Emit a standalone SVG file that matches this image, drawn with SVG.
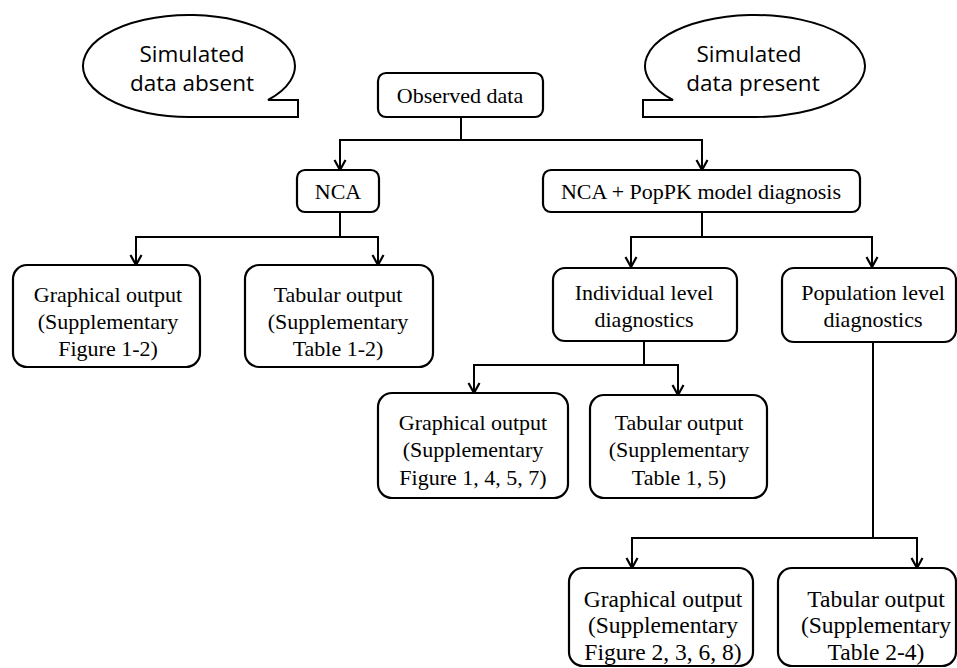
<svg xmlns="http://www.w3.org/2000/svg" width="957" height="668" viewBox="0 0 957 668">
<defs>
<style>
.box{fill:#fff;stroke:#000;stroke-width:2.2}
.bub{fill:#fff;stroke:#000;stroke-width:2}
.t{font-family:"Liberation Serif","Times New Roman",serif;font-size:22px;fill:#000;text-anchor:middle}
.b{font-size:23.5px}
.s{font-family:"Open Sans","Noto Sans",sans-serif;font-size:22.5px;fill:#000;text-anchor:middle}
.c{fill:none;stroke:#000;stroke-width:2;marker-end:url(#ah)}
</style>
<marker id="ah" markerUnits="userSpaceOnUse" markerWidth="14" markerHeight="14" viewBox="0 0 14 14" refX="12" refY="7" orient="auto">
<path d="M2,1.5 L12,7 L2,12.5" fill="none" stroke="#000" stroke-width="2.2"/>
</marker>
</defs>
<rect width="957" height="668" fill="#fff"/>
<g id="bubble-absent">
<path class="bub" d="M268,100 L298,100 L298,117 L192,117 A106,51 0 1 1 268,100 Z"/>
<text class="s" x="192" y="62">Simulated</text>
<text class="s" x="192" y="91">data absent</text>
</g>
<g id="bubble-present">
<path class="bub" d="M673,100 L643,100 L643,117 L753,117 A110,51 0 1 0 673,100 Z"/>
<text class="s" x="749" y="62">Simulated</text>
<text class="s" x="753" y="91">data present</text>
</g>
<g id="connectors">
<path class="c" d="M461,117 V140 H340 V170"/>
<path class="c" d="M461,140 H702 V170"/>
<path class="c" d="M340,212 V237 H136 V265"/>
<path class="c" d="M340,237 H378 V265"/>
<path class="c" d="M702,212 V237 H631 V267"/>
<path class="c" d="M702,237 H872 V267"/>
<path class="c" d="M644,341 V365 H474 V393"/>
<path class="c" d="M644,365 H678 V395"/>
<path class="c" d="M873,342 V538 H632 V568"/>
<path class="c" d="M873,538 H917 V568"/>
</g>
<g id="observed">
<rect class="box" x="378" y="73" width="165" height="44" rx="8"/>
<text class="t" x="460" y="103">Observed data</text>
</g>
<g id="nca">
<rect class="box" x="297" y="170" width="82" height="42" rx="8"/>
<text class="t" x="338" y="199">NCA</text>
</g>
<g id="nca-poppk">
<rect class="box" x="543" y="170" width="317" height="42" rx="8"/>
<text class="t" x="701" y="199">NCA + PopPK model diagnosis</text>
</g>
<g id="graph1">
<rect class="box" x="13" y="265" width="187" height="102" rx="14"/>
<text class="t" x="108" y="302">Graphical output</text>
<text class="t" x="108" y="329">(Supplementary</text>
<text class="t" x="108" y="356">Figure 1-2)</text>
</g>
<g id="tab1">
<rect class="box" x="245" y="265" width="188" height="102" rx="14"/>
<text class="t" x="338" y="302">Tabular output</text>
<text class="t" x="338" y="329">(Supplementary</text>
<text class="t" x="338" y="356">Table 1-2)</text>
</g>
<g id="individual">
<rect class="box" x="553" y="268" width="184" height="73" rx="12"/>
<text class="t" x="644" y="300">Individual level</text>
<text class="t" x="644" y="327">diagnostics</text>
</g>
<g id="population">
<rect class="box" x="782" y="268" width="174" height="74" rx="12"/>
<text class="t" x="873" y="300">Population level</text>
<text class="t" x="873" y="327">diagnostics</text>
</g>
<g id="graph2">
<rect class="box" x="378" y="393" width="190" height="105" rx="14"/>
<text class="t" x="473" y="430">Graphical output</text>
<text class="t" x="473" y="457">(Supplementary</text>
<text class="t" x="473" y="485">Figure 1, 4, 5, 7)</text>
</g>
<g id="tab2">
<rect class="box" x="590" y="395" width="177" height="103" rx="14"/>
<text class="t" x="679" y="430">Tabular output</text>
<text class="t" x="679" y="457">(Supplementary</text>
<text class="t" x="679" y="485">Table 1, 5)</text>
</g>
<g id="graph3">
<rect class="box" x="569" y="568" width="184" height="98" rx="14"/>
<text class="t b" x="663" y="607">Graphical output</text>
<text class="t b" x="663" y="633">(Supplementary</text>
<text class="t b" x="663" y="660">Figure 2, 3, 6, 8)</text>
</g>
<g id="tab3">
<rect class="box" x="778" y="568" width="178" height="98" rx="14"/>
<text class="t b" x="876" y="607">Tabular output</text>
<text class="t b" x="876" y="633">(Supplementary</text>
<text class="t b" x="876" y="660">Table 2-4)</text>
</g>
</svg>
